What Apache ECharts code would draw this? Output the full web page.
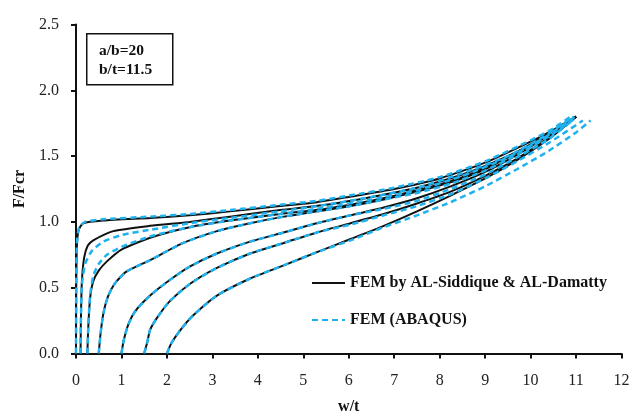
<!DOCTYPE html>
<html>
<head>
<meta charset="utf-8">
<script src="https://cdn.jsdelivr.net/npm/echarts@6/dist/echarts.min.js"></script>
<style>
html,body{margin:0;padding:0;background:#fff;}
#chart{width:632px;height:414px;}
</style>
</head>
<body>
<div id="chart"></div>
<script>
// Axis tick values
const xTicks = [0,1,2,3,4,5,6,7,8,9,10,11,12];
const yTicks = [0.0,0.5,1.0,1.5,2.0,2.5];

// Initial imperfection cases w0/t
const imperfections = [0, 0.1, 0.25, 0.5, 1, 1.5, 2];

// FEM by AL-Siddique & AL-Damatty (black solid) : [w/t, F/Fcr]
const ref_w0_00 = [[0,0],[0.005,0.5],[0.02,0.82],[0.06,0.94],[0.16,0.99],[0.6,1.01],[1.63,1.03],[2.5,1.05],[3.39,1.08],[4.49,1.12],[5.3,1.15],[6,1.19],[7,1.25],[8,1.33],[9,1.45],[10,1.61],[10.5,1.7],[11,1.80]];
const ref_w0_01 = [[0.1,0],[0.11,0.3],[0.13,0.55],[0.18,0.73],[0.26,0.82],[0.38,0.86],[0.82,0.93],[1.63,0.97],[2.5,1.0],[3.39,1.04],[4.49,1.09],[5.5,1.13],[6.5,1.19],[7.5,1.26],[8.5,1.36],[9.5,1.5],[10.3,1.64],[11,1.80]];
const ref_w0_025 = [[0.25,0],[0.27,0.2],[0.31,0.42],[0.38,0.55],[0.5,0.63],[0.68,0.7],[1,0.79],[1.63,0.88],[2.5,0.96],[3.39,1.01],[4.49,1.06],[5.5,1.1],[6.5,1.16],[7.5,1.24],[8.5,1.34],[9.5,1.49],[10.3,1.64],[11,1.80]];
const ref_w0_05 = [[0.5,0],[0.54,0.15],[0.6,0.3],[0.7,0.43],[0.85,0.53],[1.1,0.62],[1.63,0.71],[2.36,0.84],[3.1,0.93],[3.83,0.99],[4.57,1.04],[5.3,1.08],[6.04,1.12],[6.77,1.17],[7.5,1.23],[8.24,1.3],[9,1.4],[9.7,1.53],[10.4,1.67],[11,1.80]];
const ref_w0_10 = [[1,0],[1.05,0.1],[1.15,0.22],[1.3,0.32],[1.63,0.44],[2.07,0.56],[2.5,0.66],[3.1,0.76],[3.83,0.85],[4.57,0.92],[5.3,0.99],[6.04,1.05],[6.77,1.11],[7.5,1.18],[8.24,1.27],[9,1.38],[9.7,1.51],[10.4,1.66],[11,1.80]];
const ref_w0_15 = [[1.5,0],[1.57,0.09],[1.63,0.18],[1.8,0.28],[2.07,0.4],[2.51,0.53],[3.1,0.65],[3.83,0.76],[4.57,0.84],[5.3,0.92],[6.04,0.99],[6.77,1.06],[7.5,1.14],[8.24,1.23],[9,1.35],[9.7,1.48],[10.4,1.64],[11,1.80]];
const ref_w0_20 = [[2,0],[2.1,0.08],[2.3,0.18],[2.58,0.29],[3.1,0.44],[3.83,0.57],[4.57,0.67],[5.3,0.77],[6.04,0.87],[6.77,0.97],[7.5,1.08],[8.24,1.2],[9,1.33],[9.7,1.47],[10.4,1.63],[11,1.80]];

// FEM (ABAQUS) (cyan dashed) : [w/t, F/Fcr]
const abq_w0_00 = [[0,0],[0.005,0.5],[0.02,0.84],[0.07,0.96],[0.2,1.0],[0.6,1.02],[1.63,1.04],[2.5,1.06],[3.39,1.09],[4.49,1.13],[5.3,1.16],[6,1.2],[7,1.26],[8,1.34],[9,1.46],[10,1.62],[10.5,1.71],[10.92,1.81]];
const abq_w0_01 = [[0.1,0],[0.11,0.3],[0.13,0.52],[0.2,0.68],[0.35,0.78],[0.6,0.85],[1,0.9],[1.63,0.94],[2.5,0.99],[3.39,1.03],[4.49,1.08],[5.5,1.13],[6.5,1.19],[7.5,1.26],[8.5,1.37],[9.5,1.5],[10.3,1.65],[10.95,1.80]];
const abq_w0_025 = [[0.25,0],[0.27,0.2],[0.31,0.44],[0.38,0.59],[0.5,0.68],[0.68,0.75],[1,0.81],[1.63,0.89],[2.5,0.96],[3.39,1.01],[4.49,1.06],[5.5,1.11],[6.5,1.17],[7.5,1.24],[8.5,1.35],[9.5,1.49],[10.3,1.64],[10.98,1.80]];
const abq_w0_05 = [[0.5,0],[0.54,0.15],[0.6,0.3],[0.7,0.43],[0.85,0.53],[1.1,0.62],[1.63,0.71],[2.36,0.84],[3.1,0.93],[3.83,0.99],[4.57,1.04],[5.3,1.08],[6.04,1.12],[6.77,1.17],[7.5,1.22],[8.24,1.29],[9,1.39],[9.7,1.51],[10.4,1.65],[11,1.79]];
const abq_w0_10 = [[1,0],[1.05,0.1],[1.15,0.22],[1.3,0.32],[1.63,0.44],[2.07,0.56],[2.5,0.66],[3.1,0.76],[3.83,0.85],[4.57,0.92],[5.3,0.99],[6.04,1.05],[6.77,1.1],[7.5,1.16],[8.24,1.25],[9,1.36],[9.7,1.49],[10.4,1.63],[10.95,1.78]];
const abq_w0_15 = [[1.5,0],[1.57,0.09],[1.63,0.18],[1.8,0.28],[2.07,0.4],[2.51,0.53],[3.1,0.65],[3.83,0.76],[4.57,0.84],[5.3,0.92],[6.04,0.98],[6.77,1.05],[7.5,1.12],[8.24,1.21],[9,1.33],[9.7,1.46],[10.4,1.6],[11.15,1.77]];
const abq_w0_20 = [[2,0],[2.1,0.08],[2.3,0.18],[2.58,0.29],[3.1,0.44],[3.83,0.57],[4.57,0.67],[5.3,0.77],[6.04,0.86],[6.77,0.96],[7.5,1.05],[8.24,1.15],[9,1.27],[9.7,1.4],[10.4,1.54],[11,1.68],[11.32,1.77]];

const refName = 'FEM by AL-Siddique & AL-Damatty';
const abqName = 'FEM (ABAQUS)';
const refCurves = [ref_w0_00, ref_w0_01, ref_w0_025, ref_w0_05, ref_w0_10, ref_w0_15, ref_w0_20];
const abqCurves = [abq_w0_00, abq_w0_01, abq_w0_025, abq_w0_05, abq_w0_10, abq_w0_15, abq_w0_20];
const noteLines = ['a/b=20', 'b/t=11.5'];

const serif = 'Liberation Serif';
const BLACK = '#111111';
const CYAN = '#1fb2ee';

const series = [];
refCurves.forEach((d) => {
  series.push({
    name: refName, type: 'line', data: d, showSymbol: false, symbol: 'none',
    smooth: 0.2, z: 2,
    lineStyle: { color: BLACK, width: 2 }, itemStyle: { color: BLACK }
  });
});
abqCurves.forEach((d) => {
  series.push({
    name: abqName, type: 'line', data: d, showSymbol: false, symbol: 'none',
    smooth: 0.2, z: 3,
    lineStyle: { color: CYAN, width: 2.5, type: [6, 4] }, itemStyle: { color: CYAN }
  });
});

const chart = echarts.init(document.getElementById('chart'), null, { renderer: 'canvas' });
chart.setOption({
  animation: false,
  backgroundColor: '#fff',
  grid: { left: 76, right: 10.5, top: 24.5, bottom: 60.5, containLabel: false, outerBoundsMode: 'none' },
  xAxis: {
    type: 'value', min: xTicks[0], max: xTicks[xTicks.length - 1], interval: 1,
    name: 'w/t', nameLocation: 'middle', nameGap: 45,
    nameTextStyle: { fontFamily: serif, fontWeight: 'bold', fontSize: 16, color: BLACK },
    axisLine: { show: true, lineStyle: { color: BLACK, width: 2 } },
    axisTick: { show: true, inside: false, length: 5, lineStyle: { color: BLACK, width: 2 } },
    axisLabel: { fontFamily: serif, fontSize: 16, color: '#222', margin: 19 },
    splitLine: { show: false }
  },
  yAxis: {
    type: 'value', min: yTicks[0], max: yTicks[yTicks.length - 1], interval: 0.5,
    name: 'F/Fcr', nameLocation: 'middle', nameGap: 47, nameRotate: 90,
    nameTextStyle: { fontFamily: serif, fontWeight: 'bold', fontSize: 16, color: BLACK },
    axisLine: { show: true, lineStyle: { color: BLACK, width: 2 } },
    axisTick: { show: true, inside: false, length: 5, lineStyle: { color: BLACK, width: 2 } },
    axisLabel: { fontFamily: serif, fontSize: 16, color: '#222', margin: 17, formatter: (v) => v.toFixed(1) },
    splitLine: { show: false }
  },
  legend: {
    orient: 'vertical', left: 311, top: 275, padding: 0,
    itemWidth: 33, itemHeight: 18, itemGap: 21,
    data: [refName, abqName],
    itemStyle: { opacity: 0 },
    textStyle: { fontFamily: serif, fontWeight: 'bold', fontSize: 16, color: BLACK },
    selectedMode: false
  },
  graphic: [
    { type: 'rect', left: 86, top: 33, shape: { width: 86, height: 51 },
      style: { fill: '#fff', stroke: BLACK, lineWidth: 1.5 }, z: 10 },
    { type: 'text', left: 99, top: 41,
      style: { text: noteLines.join('\n'), fontFamily: serif, fontWeight: 'bold', fontSize: 15.5, lineHeight: 19, fill: BLACK }, z: 11 }
  ],
  series: series
});
</script>
</body>
</html>
